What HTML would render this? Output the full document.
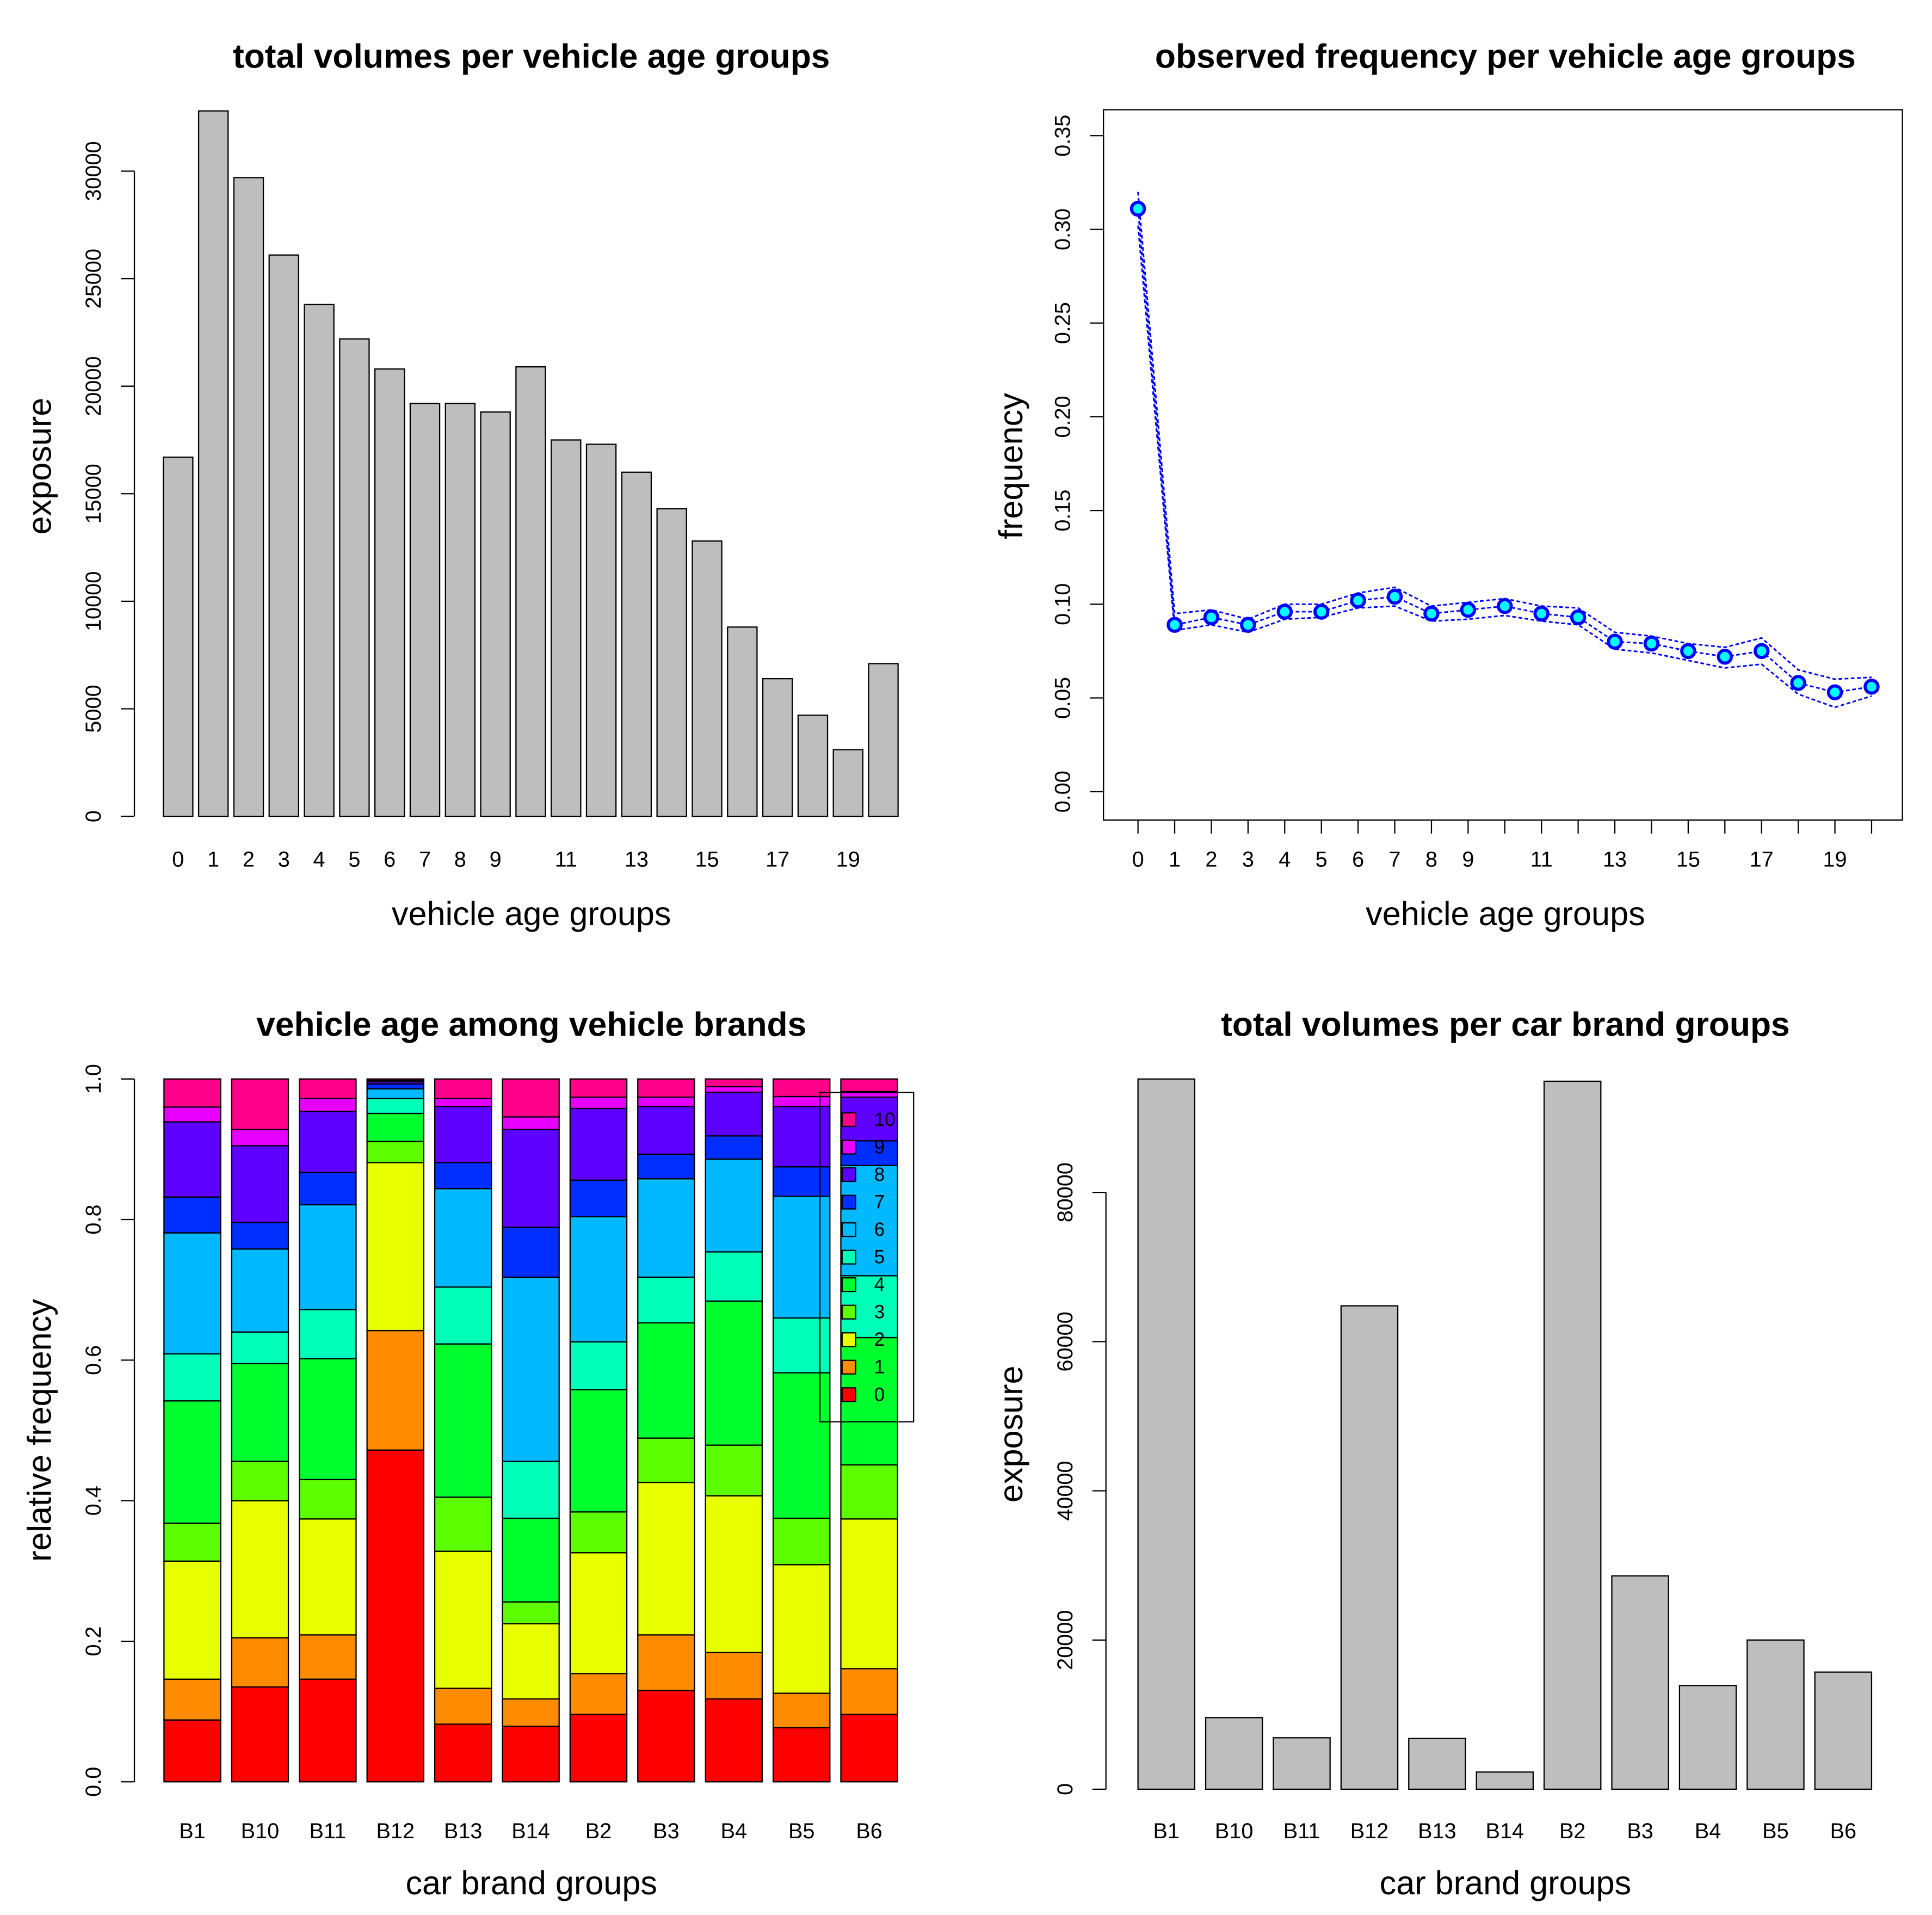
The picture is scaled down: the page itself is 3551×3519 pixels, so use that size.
<!DOCTYPE html>
<html><head><meta charset="utf-8"><style>html,body{margin:0;padding:0;background:#fff}svg{display:block}text{font-family:"Liberation Sans",Arial,sans-serif;fill:#000}</style></head>
<body>
<svg id="c" xmlns="http://www.w3.org/2000/svg" width="3551" height="3519" viewBox="0 0 1567 1553" preserveAspectRatio="none"></svg>
<script>
// ---- data ----
const ageGroups = ["0","1","2","3","4","5","6","7","8","9","10","11","12","13","14","15","16","17","18","19","20"];
const ageLabels = ["0","1","2","3","4","5","6","7","8","9","","11","","13","","15","","17","","19",""];
const ageExposure = [16700,32800,29700,26100,23800,22200,20800,19200,19200,18800,20900,17500,17300,16000,14300,12800,8800,6400,4700,3100,7100];
const freqObs = [0.311,0.089,0.093,0.089,0.096,0.096,0.102,0.104,0.095,0.097,0.099,0.095,0.093,0.080,0.079,0.075,0.072,0.075,0.058,0.053,0.056];
const freqUpper = [0.320,0.095,0.097,0.092,0.100,0.100,0.106,0.109,0.099,0.101,0.103,0.099,0.098,0.085,0.083,0.079,0.077,0.082,0.065,0.060,0.061];
const freqLower = [0.302,0.086,0.089,0.085,0.092,0.093,0.098,0.099,0.091,0.092,0.094,0.091,0.089,0.076,0.074,0.070,0.066,0.068,0.052,0.045,0.051];
const expTicks = [0,5000,10000,15000,20000,25000,30000];
const freqTicks = [0,0.05,0.10,0.15,0.20,0.25,0.30,0.35];
const freqTickLabels = ["0.00","0.05","0.10","0.15","0.20","0.25","0.30","0.35"];
const brands = ["B1","B10","B11","B12","B13","B14","B2","B3","B4","B5","B6"];
const brandExposure = [95200,9600,6900,64800,6800,2300,94900,28600,13900,20000,15700];
const brandTicks = [0,20000,40000,60000,80000];
const relTicks = [0,0.2,0.4,0.6,0.8,1.0];
const relTickLabels = ["0.0","0.2","0.4","0.6","0.8","1.0"];
const ageClasses = ["0","1","2","3","4","5","6","7","8","9","10"];
// cumulative share (upper bound of age classes 0..9) per brand; class 10 fills to 1
const cumB1  = [0.088,0.146,0.314,0.368,0.542,0.609,0.781,0.832,0.939,0.960];
const cumB10 = [0.135,0.205,0.400,0.456,0.595,0.640,0.758,0.796,0.905,0.928];
const cumB11 = [0.146,0.209,0.374,0.430,0.602,0.672,0.821,0.867,0.954,0.972];
const cumB12 = [0.472,0.642,0.881,0.911,0.951,0.972,0.986,0.993,0.996,0.998];
const cumB13 = [0.082,0.133,0.328,0.405,0.623,0.704,0.844,0.881,0.961,0.972];
const cumB14 = [0.079,0.118,0.225,0.256,0.375,0.456,0.718,0.789,0.928,0.946];
const cumB2  = [0.096,0.154,0.326,0.384,0.558,0.626,0.804,0.856,0.958,0.974];
const cumB3  = [0.130,0.209,0.426,0.489,0.653,0.718,0.858,0.893,0.961,0.974];
const cumB4  = [0.118,0.184,0.407,0.479,0.684,0.754,0.886,0.919,0.981,0.989];
const cumB5  = [0.077,0.126,0.309,0.375,0.582,0.660,0.833,0.875,0.961,0.975];
const cumB6  = [0.096,0.161,0.374,0.451,0.632,0.720,0.877,0.912,0.974,0.982];
const cumAll = [cumB1,cumB10,cumB11,cumB12,cumB13,cumB14,cumB2,cumB3,cumB4,cumB5,cumB6];
const rainbow = ["#FF0000","#FF8B00","#E8FF00","#5DFF00","#00FF2E","#00FFB9","#00B9FF","#002EFF","#5D00FF","#E800FF","#FF008B"];

const svg = document.getElementById('c');
const NS = 'http://www.w3.org/2000/svg';
function el(tag, attrs, parent, txt){
  const e = document.createElementNS(NS, tag);
  for (const k in attrs) e.setAttribute(k, attrs[k]);
  if (txt !== undefined) e.textContent = txt;
  (parent || svg).appendChild(e);
  return e;
}
function grp(name){ const g = el('g', {});   return g; }
function txt(parent, x, y, s, size, opts){
  const o = opts || {};
  const a = {x:x, y:y, 'font-size':size, 'text-anchor':o.anchor||'middle', 'dominant-baseline':'central'};
  if (o.bold) a['font-weight'] = 'bold';
  if (o.rot) a.transform = 'rotate(-90 ' + x + ' ' + y + ')';
  const t = el('text', a, parent, s);
  
  
  return t;
}
function line(parent, x1, y1, x2, y2, extra){
  const a = {x1:x1, y1:y1, x2:x2, y2:y2, stroke:'#000', 'stroke-width':1};
  Object.assign(a, extra || {});
  return el('line', a, parent);
}
function yAxis(parent, ax, ticks, labels, yf){
  const g = el('g', {}, parent);
  
  
  line(g, ax, yf(ticks[0]), ax, yf(ticks[ticks.length-1]));
  ticks.forEach((t, i) => {
    line(g, ax-11, yf(t), ax, yf(t));
    txt(g, ax-33, yf(t), labels[i], TS, {rot:true, name:'y-tick-label'});
  });
}
const TS = 17.5, AS = 27, HS = 27.5;

// ---- Panel 1 ----
(function(){
  const g = grp('panel-age-exposure');
  const y0 = 662, per = 87.2/5000;
  const yf = v => y0 - v*per;
  const step = 28.6, bw = 23.9, x0 = 132.5;
  ageExposure.forEach((v, i) => {
    const r = el('rect', {x:x0+i*step, y:yf(v), width:bw, height:v*per, fill:'#BEBEBE', stroke:'#000', 'stroke-width':1}, g);
    
    
    if (ageLabels[i]) txt(g, x0+i*step+bw/2, 697, ageLabels[i], TS, {name:'x-tick-label'});
  });
  yAxis(g, 109, expTicks, expTicks.map(String), yf);
  txt(g, 431, 46, 'total volumes per vehicle age groups', HS, {bold:true, name:'chart-title'});
  txt(g, 431, 741, 'vehicle age groups', AS, {name:'x-axis-title'});
  txt(g, 32, 378, 'exposure', AS, {rot:true, name:'y-axis-title'});
})();

// ---- Panel 2 ----
(function(){
  const g = grp('panel-age-frequency');
  const yf = v => 642 - v/0.05*76;
  const x0 = 923, step = 29.75;
  const xf = i => x0 + i*step;
  const box = el('rect', {x:895, y:89, width:648, height:576, fill:'none', stroke:'#000', 'stroke-width':1}, g);
  
  
  ageGroups.forEach((a, i) => {
    line(g, xf(i), 665, xf(i), 676);
    if (ageLabels[i]) txt(g, xf(i), 697, ageLabels[i], TS, {name:'x-tick-label'});
  });
  yAxis(g, 895, freqTicks, freqTickLabels, yf);
  [freqUpper, freqLower, freqObs].forEach((arr, k) => {
    const p = el('polyline', {points: arr.map((v, i) => xf(i) + ',' + yf(v)).join(' '), fill:'none', stroke:'#0000FF', 'stroke-width':1.3, 'stroke-dasharray':'3,2'}, g);
    
    
  });
  freqObs.forEach((v, i) => {
    const c = el('circle', {cx:xf(i), cy:yf(v), r:5.2, fill:'#00FFFF', stroke:'#0000FF', 'stroke-width':2.6}, g);
    
    
  });
  txt(g, 1221, 46, 'observed frequency per vehicle age groups', HS, {bold:true, name:'chart-title'});
  txt(g, 1221, 741, 'vehicle age groups', AS, {name:'x-axis-title'});
  txt(g, 820, 378, 'frequency', AS, {rot:true, name:'y-axis-title'});
})();

// ---- Panel 3 ----
(function(){
  const g = grp('panel-age-by-brand');
  const yf = v => 1445 - v*570;
  const x0 = 133, step = 54.9, bw = 46;
  cumAll.forEach((cum, b) => {
    const bounds = [0].concat(cum).concat([1]);
    for (let k = 0; k < 11; k++) {
      const r = el('rect', {x:x0+b*step, y:yf(bounds[k+1]), width:bw, height:Math.max(0, yf(bounds[k]) - yf(bounds[k+1])), fill:rainbow[k], stroke:'#000', 'stroke-width':1}, g);
      
      
    }
    txt(g, x0+b*step+bw/2, 1485, brands[b], TS, {name:'x-tick-label'});
  });
  yAxis(g, 109, relTicks, relTickLabels, yf);
  const lg = el('g', {}, g);
  
  
  el('rect', {x:665, y:886, width:76, height:267, fill:'none', stroke:'#000', 'stroke-width':1}, lg);
  for (let k = 10; k >= 0; k--) {
    const yy = 908 + (10-k)*22.3;
    const s = el('rect', {x:683, y:yy-5.5, width:11, height:11, fill:rainbow[k], stroke:'#000', 'stroke-width':1}, lg);
    
    
    txt(lg, 709, yy, ageClasses[k], 15.5, {anchor:'start', name:'legend-entry'});
  }
  txt(g, 431, 831, 'vehicle age among vehicle brands', HS, {bold:true, name:'chart-title'});
  txt(g, 431, 1527, 'car brand groups', AS, {name:'x-axis-title'});
  txt(g, 32, 1160, 'relative frequency', AS, {rot:true, name:'y-axis-title'});
})();

// ---- Panel 4 ----
(function(){
  const g = grp('panel-brand-exposure');
  const per = 121/20000;
  const yf = v => 1451 - v*per;
  const x0 = 923, step = 54.9, bw = 46;
  brandExposure.forEach((v, i) => {
    const r = el('rect', {x:x0+i*step, y:yf(v), width:bw, height:v*per, fill:'#BEBEBE', stroke:'#000', 'stroke-width':1}, g);
    
    
    txt(g, x0+i*step+bw/2, 1485, brands[i], TS, {name:'x-tick-label'});
  });
  yAxis(g, 897, brandTicks, brandTicks.map(String), yf);
  txt(g, 1221, 831, 'total volumes per car brand groups', HS, {bold:true, name:'chart-title'});
  txt(g, 1221, 1527, 'car brand groups', AS, {name:'x-axis-title'});
  txt(g, 820, 1163, 'exposure', AS, {rot:true, name:'y-axis-title'});
})();
</script>
</body></html>
